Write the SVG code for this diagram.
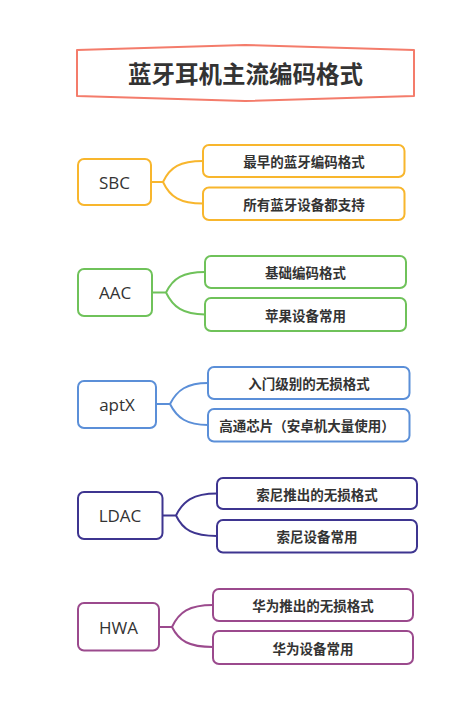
<svg xmlns="http://www.w3.org/2000/svg" width="467" height="713" viewBox="0 0 467 713">
<style>
.bg{fill:#ffffff}
.title{fill:#ffffff;stroke:#f47c6b;stroke-width:2;stroke-linejoin:round}
.tt{font-family:"Noto Sans CJK SC","Noto Sans",sans-serif;font-size:23.5px;font-weight:bold;fill:#333333;text-anchor:middle;dominant-baseline:central}
.main{fill:#ffffff;stroke-width:2}
.mt{font-family:"Open Sans","Noto Sans",sans-serif;font-size:17px;fill:#333333;text-anchor:middle;dominant-baseline:central}
.ct{font-family:"Noto Sans CJK SC","Noto Sans",sans-serif;font-size:13.5px;font-weight:bold;fill:#333333;text-anchor:middle;dominant-baseline:central}
.conn path{fill:none;stroke-width:2}
.o{stroke:#f8b62d}.g{stroke:#6fc25a}.b{stroke:#5b8fd8}.p{stroke:#3e3590}.m{stroke:#9b4a8d}
</style>
<rect class="bg" x="0" y="0" width="467" height="713"/>
<g id="conn" class="conn">
<path class="o" d="M151,182 H163 C170,167 180,161 203,161 M163,182 C170,197 180,203.5 203,203.5"/>
<path class="g" d="M152,292.5 H166 C173,278 183,272 205,272 M166,292.5 C173,307 183,314.5 205,314.5"/>
<path class="b" d="M156,404 H170 C177,390 187,383 208,383 M170,404 C177,418 187,425 208,425"/>
<path class="p" d="M162.5,515.5 H176 C183,501 193,493.5 217,493.5 M176,515.5 C183,530 193,536 217,536"/>
<path class="m" d="M159,627 H172 C179,612 189,605 213,605 M172,627 C179,641 189,647 213,647"/>
</g>
<g id="title">
<path class="title" d="M77,50 L245,45 L414,50 L414,96 L245,101 L77,96 Z"/>
<text class="tt" x="245.5" y="73">蓝牙耳机主流编码格式</text>
</g>
<g id="sbc">
<rect class="main o" x="78" y="159" width="73" height="46" rx="6"/>
<text class="mt" x="114.5" y="182">SBC</text>
</g>
<g id="sbc1"><rect class="main o" x="203" y="145" width="201.5" height="32" rx="6"/><text class="ct" x="304" y="161">最早的蓝牙编码格式</text></g>
<g id="sbc2"><rect class="main o" x="203" y="187.5" width="201.5" height="32.5" rx="6"/><text class="ct" x="304" y="203.5">所有蓝牙设备都支持</text></g>
<g id="aac">
<rect class="main g" x="78" y="269" width="74" height="47" rx="6"/>
<text class="mt" x="115" y="292.5">AAC</text>
</g>
<g id="aac1"><rect class="main g" x="205" y="256" width="201" height="32" rx="6"/><text class="ct" x="305.5" y="272">基础编码格式</text></g>
<g id="aac2"><rect class="main g" x="205" y="298" width="201" height="33" rx="6"/><text class="ct" x="305.5" y="314.5">苹果设备常用</text></g>
<g id="aptx">
<rect class="main b" x="78" y="381" width="78" height="47" rx="6"/>
<text class="mt" x="117" y="404">aptX</text>
</g>
<g id="aptx1"><rect class="main b" x="208" y="367" width="201.5" height="32" rx="6"/><text class="ct" x="309" y="383">入门级别的无损格式</text></g>
<g id="aptx2"><rect class="main b" x="208" y="409" width="201.5" height="32.5" rx="6"/><text class="ct" x="307" y="425">高通芯片（安卓机大量使用）</text></g>
<g id="ldac">
<rect class="main p" x="78" y="492" width="84.5" height="47" rx="6"/>
<text class="mt" x="120" y="515.5">LDAC</text>
</g>
<g id="ldac1"><rect class="main p" x="217" y="478" width="200" height="31" rx="6"/><text class="ct" x="317" y="493.5">索尼推出的无损格式</text></g>
<g id="ldac2"><rect class="main p" x="217" y="520" width="200" height="32.5" rx="6"/><text class="ct" x="317" y="536">索尼设备常用</text></g>
<g id="hwa">
<rect class="main m" x="78" y="603" width="81" height="47.5" rx="6"/>
<text class="mt" x="118.5" y="627">HWA</text>
</g>
<g id="hwa1"><rect class="main m" x="213" y="589" width="200" height="32" rx="6"/><text class="ct" x="313" y="605">华为推出的无损格式</text></g>
<g id="hwa2"><rect class="main m" x="213" y="631" width="200" height="33" rx="6"/><text class="ct" x="313" y="647.5">华为设备常用</text></g>
</svg>
